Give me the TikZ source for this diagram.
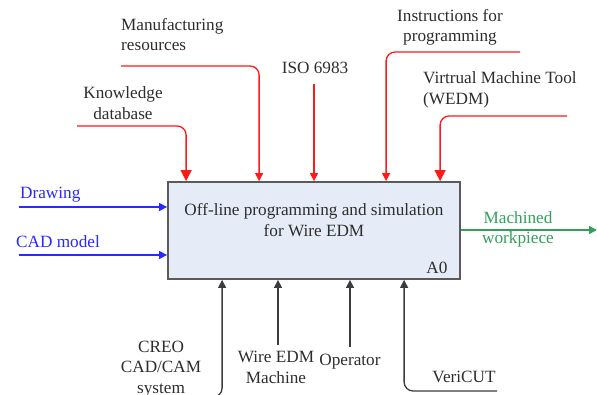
\documentclass[tikz,border=0pt]{standalone}
\usepackage{fontspec}
\setmainfont{Liberation Serif}
\usetikzlibrary{positioning,arrows.meta,calc}
\definecolor{ctrlred}{RGB}{255,25,25}
\definecolor{inpblue}{RGB}{40,40,255}
\definecolor{outgreen}{RGB}{50,160,90}
\definecolor{mechgray}{RGB}{60,60,60}
\definecolor{txtgray}{RGB}{45,45,45}
\definecolor{boxfill}{RGB}{230,236,247}
\definecolor{boxline}{RGB}{90,90,90}

\begin{document}
\begin{tikzpicture}[x=1pt,y=1pt,
  lbl/.style={font=\fontsize{17.2}{20.5}\selectfont,text=txtgray,inner sep=0pt},
  ctrl/.style={draw=ctrlred,line width=1.3pt,rounded corners=9pt,-{Triangle[length=8pt,width=8pt]}},
  ctrlbig/.style={ctrl,-{Triangle[length=11pt,width=11pt]}},
  inp/.style={draw=inpblue,line width=1.3pt,-{Triangle[length=8pt,width=8pt]}},
  outp/.style={draw=outgreen,line width=1.3pt,-{Triangle[length=8pt,width=8pt]}},
  mech/.style={draw=mechgray,line width=1.3pt,rounded corners=9pt,-{Triangle[length=8pt,width=8pt]}}]
\useasboundingbox (0,0) rectangle (597,394);
% activity box
\node[draw=boxline,fill=boxfill,line width=1.8pt,minimum width=292pt,minimum height=97pt,inner sep=0pt] (act) at (314,163.5) {};
\node[lbl,align=center] (acttxt) at (314,174) {Off-line programming and simulation\\for Wire EDM};
\node[lbl] (a0) at (437,126) {A0};
% inputs
\coordinate (drw) at (19,187);
\coordinate (cad) at (19,139);
\draw[inp] (drw) -- (drw -| act.west);
\draw[inp] (cad) -- (cad -| act.west);
\node[lbl,text=inpblue,anchor=west] (drwlbl) at (20,199) {Drawing};
\node[lbl,text=inpblue,anchor=west] (cadlbl) at (16,152) {CAD model};
% output
\coordinate (out) at (597,164);
\draw[outp] (act.east |- out) -- (out);
\node[lbl,text=outgreen,align=center] (outlbl) at (518,164.5) {Machined\\workpiece};
% controls
\coordinate (know) at (77,268);
\coordinate (manu) at (121,328);
\coordinate (iso) at (314,310);
\coordinate (instr) at (520,342);
\coordinate (vmt) at (567,278);
\draw[ctrlbig] (know) -| ([xshift=19pt]act.north west);
\draw[ctrl] (manu) -| ([xshift=92pt]act.north west);
\draw[ctrl] (iso) -- (iso |- act.north);
\draw[ctrl] (instr) -| ([xshift=219pt]act.north west);
\draw[ctrlbig] (vmt) -| ([xshift=273pt]act.north west);
\node[lbl,align=center] (knowlbl) at (123,291) {Knowledge\\database};
\node[lbl,align=left,anchor=west] (manulbl) at (121,359.5) {Manufacturing\\resources};
\node[lbl] (isolbl) at (315,326) {ISO 6983};
\node[lbl,align=center] (instrlbl) at (450,366.5) {Instructions for\\programming};
\node[lbl,align=left,anchor=west] (vmtlbl) at (423,304) {Virtrual Machine Tool\\(WEDM)};
% mechanisms
\coordinate (creo) at (211,-3);
\coordinate (wire) at (278,49);
\coordinate (oper) at (350,47);
\coordinate (veri) at (497,3);
\draw[mech] (creo) -| ([xshift=55pt]act.south west);
\draw[mech] (wire) -- (wire |- act.south);
\draw[mech] (oper) -- (oper |- act.south);
\draw[mech] (veri) -| ([xshift=237pt]act.south west);
\node[lbl,align=center] (creolbl) at (161,25) {CREO\\CAD/CAM\\system};
\node[lbl,align=center] (wirelbl) at (276,26.5) {Wire EDM\\Machine};
\node[lbl] (operlbl) at (350,32) {Operator};
\node[lbl] (verilbl) at (464,17) {VeriCUT};
\end{tikzpicture}
\end{document}
